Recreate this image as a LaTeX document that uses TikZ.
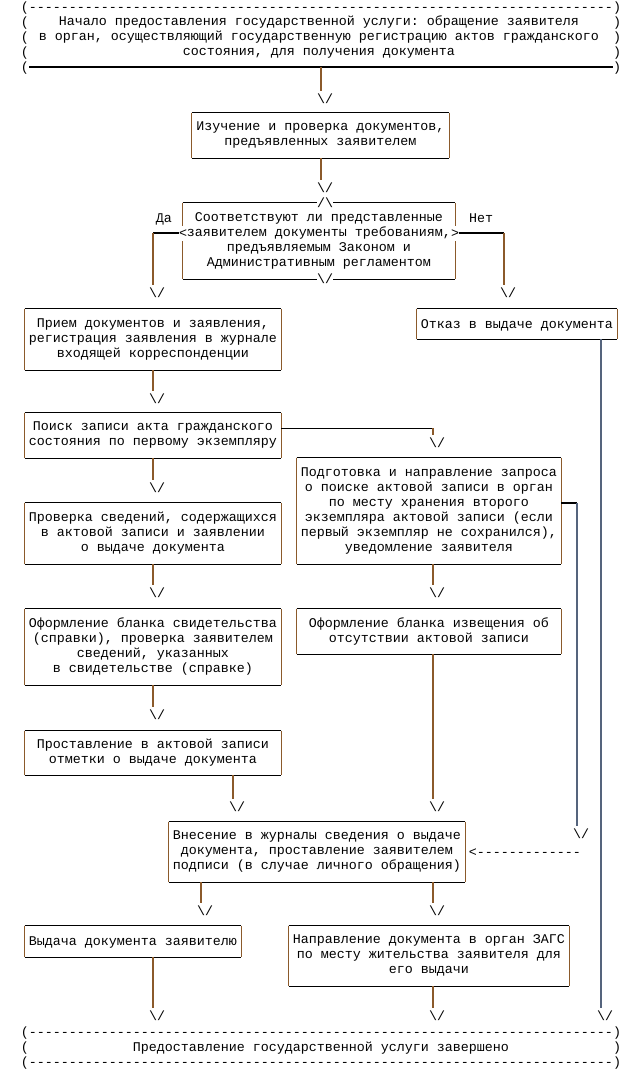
\documentclass[tikz,border=0pt]{standalone}
\usepackage{fontspec}
\setmonofont{Liberation Mono}
\definecolor{brn}{RGB}{139,90,43}
\definecolor{slt}{RGB}{85,100,125}
\ExplSyntaxOn
\newcommand{\dashes}[1]{\prg_replicate:nn{#1}{-}}
\ExplSyntaxOff
\newcommand{\darr}{\phantom{/}\textbackslash/}
\newcommand{\rowstrut}{\rule[-2.3pt]{0pt}{11.25pt}}
\tikzset{
  txt/.style={font=\ttfamily\fontsize{10}{11.25}\selectfont, inner sep=0pt, execute at begin node=\rowstrut},
  pbox/.style={font=\ttfamily\fontsize{10}{11.25}\selectfont, inner sep=0pt, align=center,
    execute at begin node=\rowstrut, execute at end node=\rowstrut},
  sz/.style 2 args={minimum width=#1*0.75pt, minimum height=#2*0.75pt},
  over/.style={txt, fill=white},
  hl/.style={draw=black, line width=0.8pt},
  vl/.style={draw=brn, line width=0.9pt},
  vs/.style={draw=slt, line width=0.9pt}
}
\begin{document}
\begin{tikzpicture}[x=0.75pt,y=-0.75pt]
\useasboundingbox (0,0) rectangle (635,1079);

% start and end frames
\foreach \y [count=\i] in {7,22,37,52,67,1032,1047,1062} {
  \node[txt] (pl\i) at (25,\y) {(};
  \node[txt] (pr\i) at (617,\y) {)};
}
\node[txt] (d1) at (321,7) {\dashes{73}};
\node[txt] (d2) at (321,1032) {\dashes{73}};
\node[txt] (d3) at (321,1062) {\dashes{73}};
\draw[hl] (pl5) -- (pr5);
\node[pbox] (start) at (319,37) {Начало предоставления государственной услуги: обращение заявителя\\в орган, осуществляющий государственную регистрацию актов гражданского\\состояния, для получения документа};
\node[txt] (fin) at (321,1047) {Предоставление государственной услуги завершено};

% boxes
\node[pbox, sz={257}{45}] (chk) at (320.5,135.5) {Изучение и проверка документов,\\предъявленных заявителем};
\node[pbox, sz={272}{76}] (dec) at (319,241) {Соответствуют ли представленные\\заявителем документы требованиям,\\предъявляемым Законом и\\Административным регламентом};
\node[pbox, sz={256}{61}] (recv) at (153,339.5) {Прием документов и заявления,\\регистрация заявления в журнале\\входящей корреспонденции};
\node[pbox, sz={200}{30}] (refuse) at (517,324) {Отказ в выдаче документа};
\node[pbox, sz={256}{45}] (search) at (153,435.5) {Поиск записи акта гражданского\\состояния по первому экземпляру};
\node[pbox, sz={264}{106}] (req) at (429,511) {Подготовка и направление запроса\\о поиске актовой записи в орган\\по месту хранения второго\\экземпляра актовой записи (если\\первый экземпляр не сохранился),\\уведомление заявителя};
\node[pbox, sz={256}{61}] (verify) at (153,533.5) {Проверка сведений, содержащихся\\в актовой записи и заявлении\\о выдаче документа};
\node[pbox, sz={256}{76}] (cert) at (153,647) {Оформление бланка свидетельства\\(справки), проверка заявителем\\сведений, указанных\\в свидетельстве (справке)};
\node[pbox, sz={264}{45}] (notice) at (429,631.5) {Оформление бланка извещения об\\отсутствии актовой записи};
\node[pbox, sz={256}{44}] (mark) at (153,753) {Проставление в актовой записи\\отметки о выдаче документа};
\node[pbox, sz={296}{60}] (rec) at (317,852) {Внесение в журналы сведения о выдаче\\документа, проставление заявителем\\подписи (в случае личного обращения)};
\node[pbox, sz={216}{31}] (issue) at (133,941.5) {Выдача документа заявителю};
\node[pbox, sz={280}{60}] (send) at (429,956) {Направление документа в орган ЗАГС\\по месту жительства заявителя для\\его выдачи};

\foreach \b in {chk,dec,recv,refuse,search,req,verify,cert,notice,mark,rec,issue,send} {
  \draw[hl] (\b.north west) -- (\b.north east) (\b.south west) -- (\b.south east);
  \draw[vl] (\b.north west) -- (\b.south west) (\b.north east) -- (\b.south east);
}

% decision marks
\node[over] (dtop) at (325,203) {/\textbackslash};
\node[over] (dbot) at (325,279) {\textbackslash/};
\node[over] (dl) at (183,233) {<};
\node[over] (dr) at (455,233) {>};
\node[txt] (yes) at (164,218) {Да};
\node[txt] (no) at (481,218) {Нет};

% arrow heads
\node[txt] (a1) at (321,99) {\darr};
\node[txt] (a2) at (321,188) {\darr};
\node[txt] (a3) at (153,293) {\darr};
\node[txt] (a4) at (504,293) {\darr};
\node[txt] (a5) at (153,399) {\darr};
\node[txt] (a6) at (433,443) {\darr};
\node[txt] (a7) at (153,488) {\darr};
\node[txt] (a8) at (577,834) {\darr};
\node[txt] (a9) at (433,593) {\darr};
\node[txt] (a10) at (153,593) {\darr};
\node[txt] (a11) at (153,715) {\darr};
\node[txt] (a12) at (233,807) {\darr};
\node[txt] (a13) at (433,807) {\darr};
\node[txt] (a14) at (201,911) {\darr};
\node[txt] (a15) at (433,911) {\darr};
\node[txt] (a16) at (153,1016) {\darr};
\node[txt] (a17) at (433,1016) {\darr};
\node[txt] (a18) at (601,1016) {\darr};
\node[txt] (back) at (525,852) {<\dashes{13}};

% connectors
\coordinate (sr) at ([yshift=5.6pt]search.east);
\coordinate (qr) at ([yshift=6pt]req.east);
\draw[vl] (pl5 -| a1) -- (a1.north);
\draw[vl] (chk.south -| a2) -- (a2.north);
\draw[hl] (dl.west) -- (dl.west -| a3);
\draw[vl] (dl.west -| a3) -- (a3.north);
\draw[hl] (dr.east) -- (dr.east -| a4);
\draw[vl] (dr.east -| a4) -- (a4.north);
\draw[vl] (recv.south -| a5) -- (a5.north);
\draw[hl] (sr) -- (sr -| a6);
\draw[vl] (sr -| a6) -- (a6.north);
\draw[vl] (search.south -| a7) -- (a7.north);
\draw[hl] (qr) -- (qr -| a8);
\draw[vs] (qr -| a8) -- (a8.north);
\draw[vl] (req.south -| a9) -- (a9.north);
\draw[vl] (verify.south -| a10) -- (a10.north);
\draw[vl] (cert.south -| a11) -- (a11.north);
\draw[vl] (mark.south -| a12) -- (a12.north);
\draw[vl] (notice.south -| a13) -- (a13.north);
\draw[vl] (rec.south -| a14) -- (a14.north);
\draw[vl] (rec.south -| a15) -- (a15.north);
\draw[vl] (issue.south -| a16) -- (a16.north);
\draw[vl] (send.south -| a17) -- (a17.north);
\draw[vs] (refuse.south -| a18) -- (a18.north);
\end{tikzpicture}
\end{document}
